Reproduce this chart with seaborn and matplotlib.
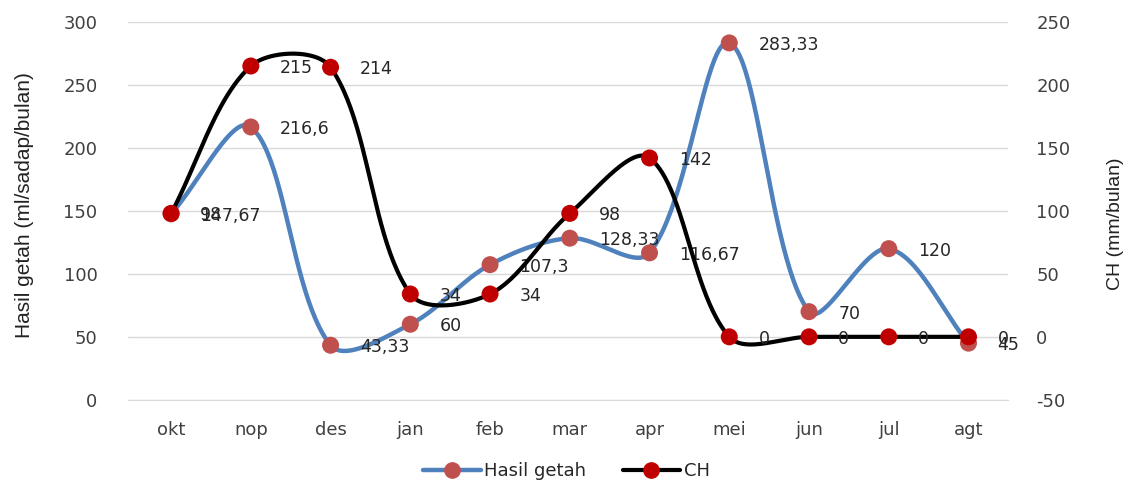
import numpy as np
import pandas as pd
import matplotlib
matplotlib.use("Agg")
import matplotlib.pyplot as plt
import seaborn as sns
from matplotlib.lines import Line2D

months = ["okt", "nop", "des", "jan", "feb", "mar", "apr", "mei", "jun", "jul", "agt"]
hasil_getah = [147.67, 216.6, 43.33, 60, 107.3, 128.33, 116.67, 283.33, 70, 120, 45]
hasil_labels = ["147,67", "216,6", "43,33", "60", "107,3", "128,33", "116,67", "283,33", "70", "120", "45"]
ch = [98, 215, 214, 34, 34, 98, 142, 0, 0, 0, 0]
ch_labels = ["98", "215", "214", "34", "34", "98", "142", "0", "0", "0", "0"]

sns.set_style("white")
plt.rcParams['font.family'] = ['DejaVu Sans']
plt.rcParams['axes.unicode_minus'] = False

FIG_W, FIG_H, DPI = 11.33, 4.87, 100
AX_RECT = [0.113, 0.179, 0.777, 0.776]
XLIM = (-0.54, 10.5)
YRANGE = 300.0


def smooth(y, n=50):
    # Excel-like smoothed line: Bezier with control points weighted by segment
    # lengths in screen space (only used to draw the curve between data points)
    px_x = FIG_W * DPI * AX_RECT[2] / (XLIM[1] - XLIM[0])
    px_y = FIG_H * DPI * AX_RECT[3] / YRANGE
    y = np.asarray(y, float)
    P = np.column_stack([np.arange(len(y)) * px_x, y * px_y])
    ext = np.vstack([P[0], P, P[-1]])
    xs, ys = [], []
    for i in range(1, len(ext) - 2):
        p0, p1, p2, p3 = ext[i - 1], ext[i], ext[i + 1], ext[i + 2]
        d01 = np.linalg.norm(p1 - p0)
        d12 = np.linalg.norm(p2 - p1)
        d23 = np.linalg.norm(p3 - p2)
        f1 = d12 / (d01 + d12) if (d01 + d12) > 0 else 0
        f2 = d12 / (d12 + d23) if (d12 + d23) > 0 else 0
        c1 = p1 + (p2 - p0) * f1 / 3.0
        c2 = p2 - (p3 - p1) * f2 / 3.0
        t = np.linspace(0, 1, n)[:, None]
        b = ((1 - t) ** 3) * p1 + 3 * ((1 - t) ** 2) * t * c1 + 3 * (1 - t) * t ** 2 * c2 + t ** 3 * p2
        xs.append(b[:, 0] / px_x)
        ys.append(b[:, 1] / px_y)
    return np.concatenate(xs), np.concatenate(ys)


blue = "#4F81BD"
mk1 = "#C0504D"
mk2 = "#C00000"

fig = plt.figure(figsize=(FIG_W, FIG_H), dpi=DPI)
ax = fig.add_axes(AX_RECT)
ax2 = ax.twinx()

sx, sy = smooth(hasil_getah)
sns.lineplot(x=sx, y=sy, ax=ax, color=blue, lw=3.2, sort=False, zorder=3)
sns.scatterplot(x=np.arange(len(months)), y=hasil_getah, ax=ax, color=mk1, s=150,
                edgecolor="none", zorder=4)

cx, cy = smooth(ch)
sns.lineplot(x=cx, y=cy, ax=ax2, color="black", lw=3.0, sort=False, zorder=3)
sns.scatterplot(x=np.arange(len(months)), y=ch, ax=ax2, color=mk2, s=150,
                edgecolor="none", zorder=4)

ax.set_xlim(*XLIM)
ax.set_ylim(0, 300)
ax2.set_ylim(-50, 250)
ax.set_yticks(np.arange(0, 301, 50))
ax2.set_yticks(np.arange(-50, 251, 50))
ax.set_xticks(range(len(months)))
ax.set_xticklabels(months)
ax.yaxis.grid(True, color="#D9D9D9", lw=1.0)
ax.set_axisbelow(True)
for a in (ax, ax2):
    for s in a.spines.values():
        s.set_visible(False)
    a.tick_params(length=0, labelsize=13, colors="#404040")
ax.spines["bottom"].set_visible(True)
ax.spines["bottom"].set_color("#D9D9D9")
ax.tick_params(axis="y", pad=22)
ax.tick_params(axis="x", pad=15)
ax2.tick_params(axis="y", pad=20)

ax.set_ylabel("Hasil getah (ml/sadap/bulan)", fontsize=15, family=["Liberation Sans"],
              color="#222222")
ax.yaxis.label.set_va("center")
ax.yaxis.set_label_coords(-0.118, 0.515)
ax2.set_ylabel("CH (mm/bulan)", fontsize=14, family=["Liberation Sans"],
               color="#222222")
ax2.yaxis.label.set_va("center")
ax2.yaxis.set_label_coords(1.122, 0.465)

for i, lab in enumerate(hasil_labels):
    ax.annotate(lab, (i, hasil_getah[i]), xytext=(21, -1.5), textcoords="offset points",
                ha="left", va="center", fontsize=12.5, color="#262626", zorder=6)
for i, lab in enumerate(ch_labels):
    ax2.annotate(lab, (i, ch[i]), xytext=(21, -1.5), textcoords="offset points",
                 ha="left", va="center", fontsize=12.5, color="#262626", zorder=6)

handles = [Line2D([0], [0], color=blue, lw=3.2, marker="o", markersize=11,
                  markerfacecolor=mk1, markeredgecolor=mk1),
           Line2D([0], [0], color="black", lw=3.0, marker="o", markersize=11,
                  markerfacecolor=mk2, markeredgecolor=mk2)]
fig.legend(handles, ["Hasil getah", "CH"], loc="lower center", ncol=2, frameon=False,
           fontsize=13, bbox_to_anchor=(0.5, -0.02), handlelength=3.2, columnspacing=2.0,
           handletextpad=0.2)

fig.savefig("out.png", dpi=DPI)
